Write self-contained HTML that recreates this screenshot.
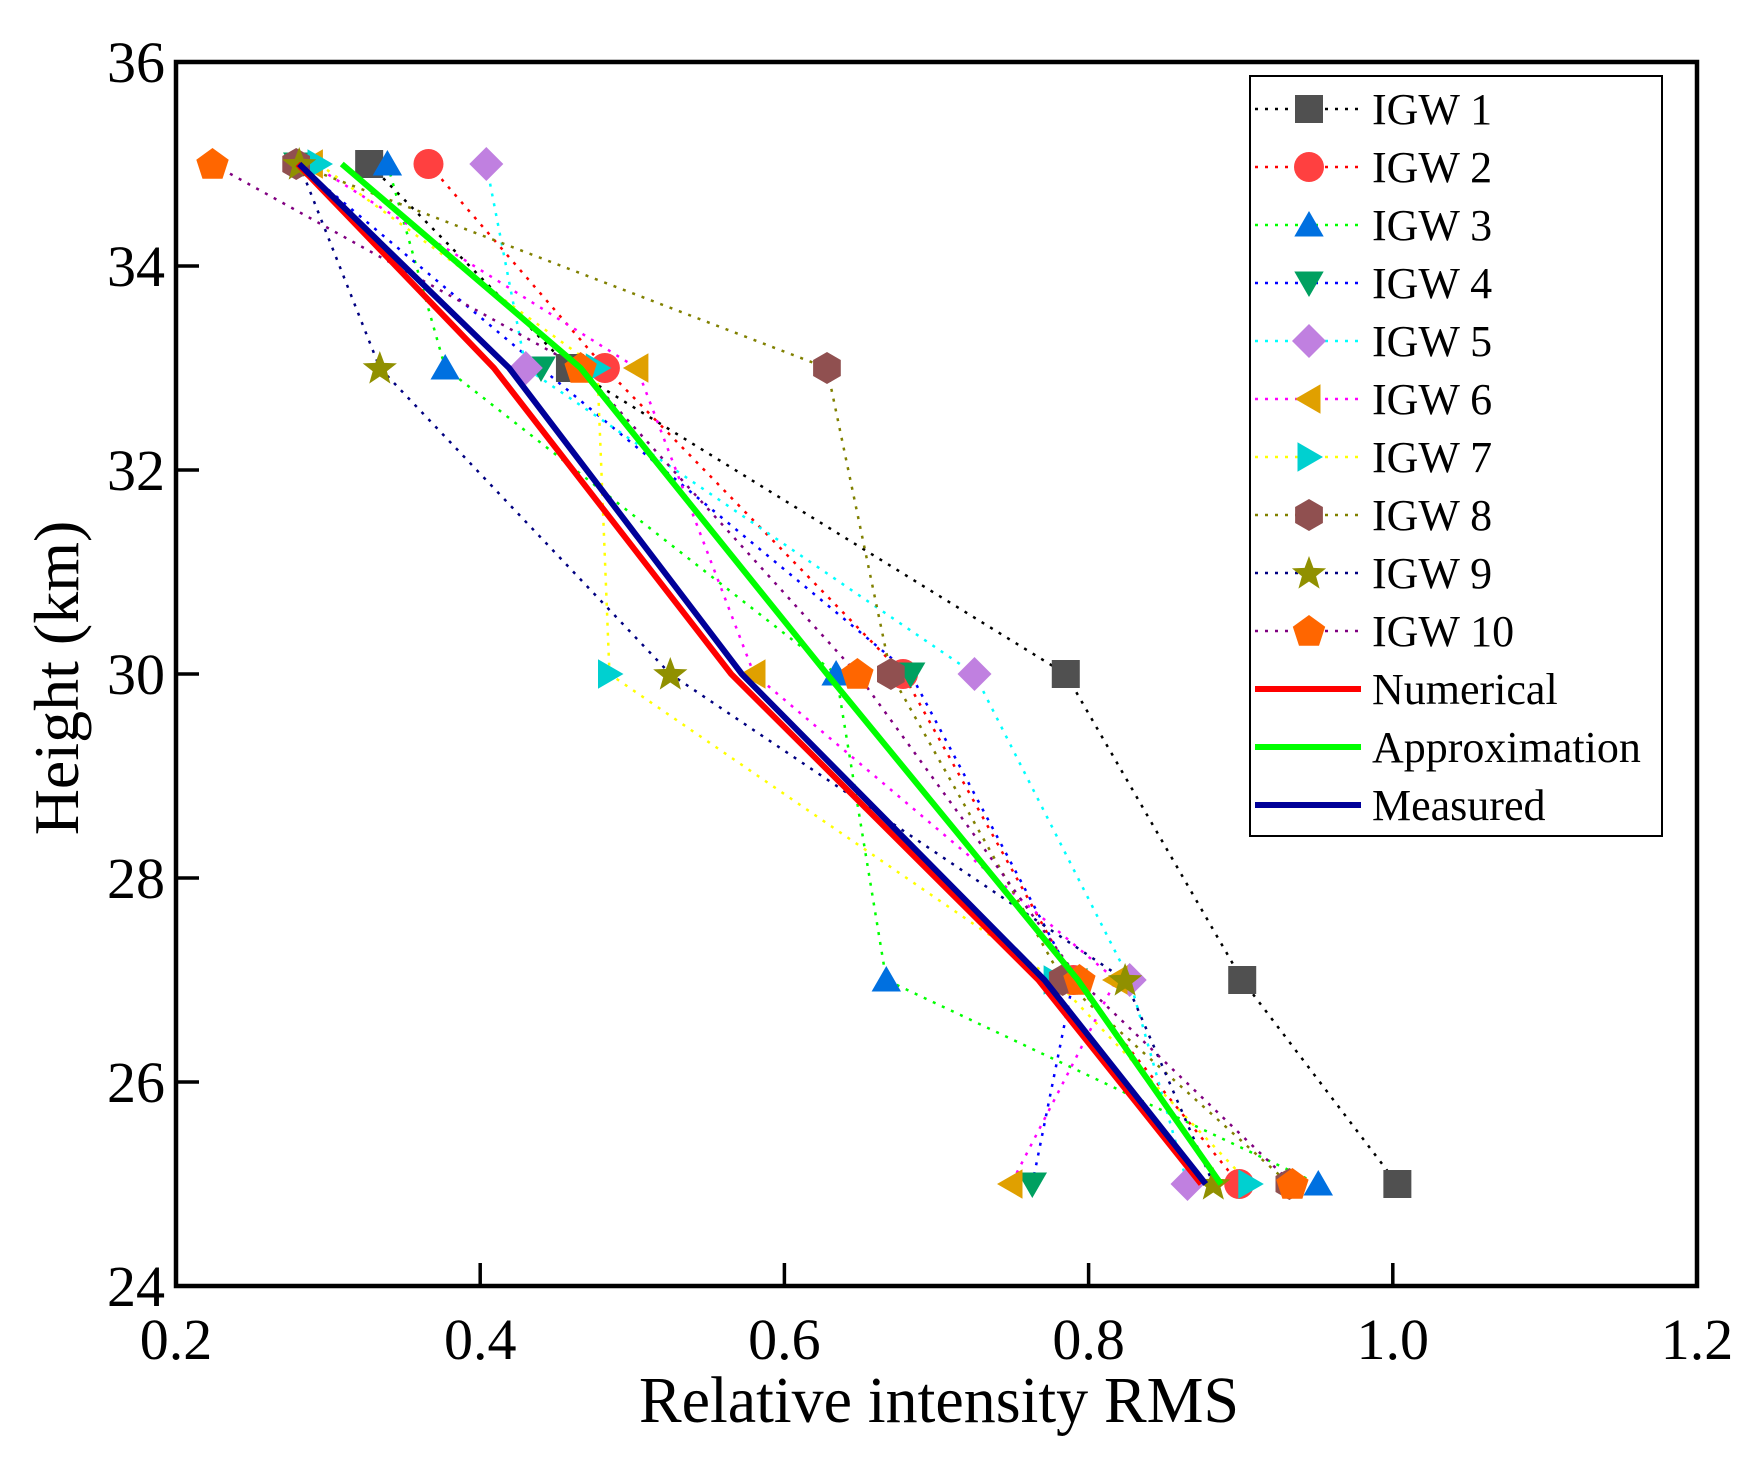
<!DOCTYPE html>
<html><head><meta charset="utf-8"><style>html,body{margin:0;padding:0;background:#fff}svg{display:block}</style></head>
<body>
<svg id="s" xmlns="http://www.w3.org/2000/svg" width="1748" height="1457" viewBox="0 0 1748 1457" font-family="'Liberation Serif', serif">
</svg>
<script>
const S=document.getElementById('s');
const X=v=>176+(v-0.2)*1521, Y=h=>62+(36-h)*102;
let o='';
const H=[35,33,30,27,25];
const series=[
 ['IGW 1','#505050','#000','sq',[0.327,0.459,0.785,0.901,1.003]],
 ['IGW 2','#ff4040','#ff0000','ci',[0.366,0.482,0.678,0.79,0.899]],
 ['IGW 3','#0070e0','#00ff00','tu',[0.339,0.377,0.634,0.667,0.951]],
 ['IGW 4','#00a060','#0000ff','td',[0.28,0.44,0.683,0.79,0.763]],
 ['IGW 5','#c080e0','#00ffff','di',[0.404,0.43,0.725,0.827,0.865]],
 ['IGW 6','#e0a000','#ff00ff','tl',[0.289,0.503,0.58,0.818,0.749]],
 ['IGW 7','#00d0d0','#ffff00','tr',[0.294,0.477,0.485,0.778,0.906]],
 ['IGW 8','#905050','#808000','hx',[0.279,0.628,0.670,0.783,0.932]],
 ['IGW 9','#909000','#000080','st',[0.281,0.334,0.525,0.824,0.882]],
 ['IGW 10','#ff6600','#800080','pe',[0.224,0.466,0.648,0.794,0.934]]
];
function poly(n,r,rot,cx,cy,inner){let p=[];let m=inner?2*n:n;for(let i=0;i<m;i++){let a=rot+i*2*Math.PI/m;let rr=inner&&i%2?inner:r;p.push((cx+rr*Math.sin(a)).toFixed(1)+','+(cy-rr*Math.cos(a)).toFixed(1));}return p.join(' ');}
function mk(t,c,x,y){const r=17;
 if(t=='sq')return `<rect x="${x-14}" y="${y-14}" width="28" height="28" fill="${c}"/>`;
 if(t=='ci')return `<circle cx="${x}" cy="${y}" r="15" fill="${c}"/>`;
 if(t=='tu')return `<polygon points="${poly(3,r,0,x,y+3)}" fill="${c}"/>`;
 if(t=='td')return `<polygon points="${poly(3,r,Math.PI,x,y-3)}" fill="${c}"/>`;
 if(t=='tl')return `<polygon points="${poly(3,r,-Math.PI/2,x+3,y)}" fill="${c}"/>`;
 if(t=='tr')return `<polygon points="${poly(3,r,Math.PI/2,x-3,y)}" fill="${c}"/>`;
 if(t=='di')return `<polygon points="${poly(4,r,0,x,y)}" fill="${c}"/>`;
 if(t=='hx')return `<polygon points="${poly(6,16,0,x,y)}" fill="${c}"/>`;
 if(t=='pe')return `<polygon points="${poly(5,17,0,x,y+1)}" fill="${c}"/>`;
 if(t=='st')return `<polygon points="${poly(5,18,0,x,y+1,7.5)}" fill="${c}"/>`;}
for(const s of series){o+=`<polyline fill="none" stroke="${s[2]}" stroke-width="2.5" stroke-dasharray="3,7" points="${s[4].map((v,i)=>X(v)+','+Y(H[i])).join(' ')}"/>`;}
for(const s of series){s[4].forEach((v,i)=>o+=mk(s[3],s[1],X(v),Y(H[i])));}
const lines=[['Numerical','#ff0000',[0.28,0.409,0.565,0.767,0.874]],['Approximation','#00ff00',[0.309,0.466,0.628,0.793,0.887]],['Measured','#000099',[0.281,0.419,0.572,0.771,0.877]]];
for(const k of [1,0,2]){const l=lines[k];o+=`<polyline fill="none" stroke="${l[1]}" stroke-width="6" stroke-linejoin="round" points="${l[2].map((v,i)=>X(v)+','+Y(H[i])).join(' ')}"/>`;}
o+=`<rect x="176" y="62" width="1521" height="1224" fill="none" stroke="#000" stroke-width="4.5"/>`;
for(let i=0;i<=5;i++){let v=0.2+i*0.2,x=X(v);if(i>0&&i<5)o+=`<line x1="${x}" y1="1286" x2="${x}" y2="1263" stroke="#000" stroke-width="3.5"/>`;o+=`<text x="${x}" y="1359" font-size="58" text-anchor="middle">${v.toFixed(1)}</text>`;}
for(let h=24;h<=36;h+=2){let y=Y(h);if(h>24&&h<36)o+=`<line x1="176" y1="${y}" x2="199" y2="${y}" stroke="#000" stroke-width="3.5"/>`;o+=`<text x="165" y="${y+20}" font-size="58" text-anchor="end">${h}</text>`;}
o+=`<text x="639" y="1422" font-size="66" textLength="600" lengthAdjust="spacingAndGlyphs">Relative intensity RMS</text>`;
o+=`<text transform="translate(78,678) rotate(-90)" font-size="64" text-anchor="middle">Height (km)</text>`;
o+=`<rect x="1250" y="76" width="412" height="760" fill="#fff" stroke="#000" stroke-width="2"/>`;
series.forEach((s,i)=>{let y=109+58*i;o+=`<line x1="1255" y1="${y}" x2="1361" y2="${y}" stroke="${s[2]}" stroke-width="2.5" stroke-dasharray="3,7"/>`+mk(s[3],s[1],1309,y)+`<text x="1372" y="${y+15}" font-size="44">${s[0]}</text>`;});
lines.forEach((l,j)=>{let y=109+58*(10+j);o+=`<line x1="1255" y1="${y}" x2="1361" y2="${y}" stroke="${l[1]}" stroke-width="6"/><text x="1372" y="${y+15}" font-size="44">${l[0]}</text>`;});
S.innerHTML=o;
</script>
</body></html>
